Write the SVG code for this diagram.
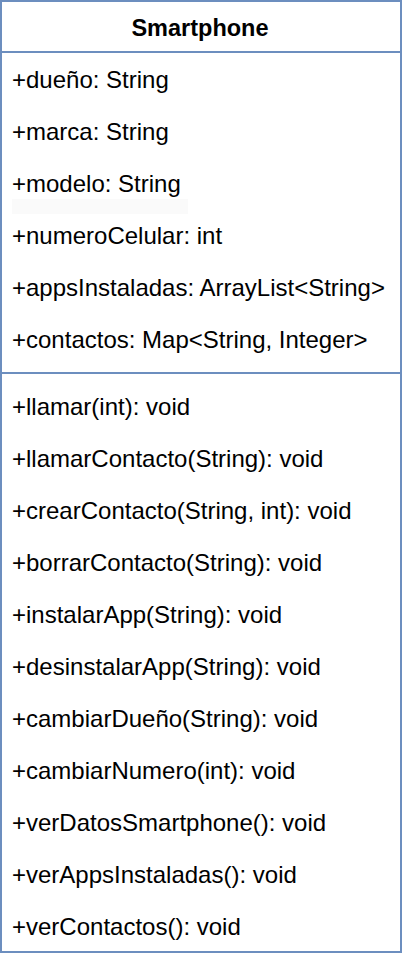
<svg xmlns="http://www.w3.org/2000/svg" width="404" height="960" viewBox="0 0 404 960">
<style>
.t{font-family:"Liberation Sans",Arial,sans-serif;font-size:24px;fill:#000}
.h{font-family:"Liberation Sans",Arial,sans-serif;font-size:23.5px;font-weight:bold;fill:#000}
.ln{stroke:#6c8ebf;stroke-width:2;fill:none}
</style>
<rect width="404" height="960" fill="#fff"/>
<g id="Smartphone">
<rect x="1" y="1" width="400" height="51" fill="#dae8fc" class="ln"/>
<rect x="1" y="52" width="400" height="900" fill="#fff" class="ln"/>
<line x1="1" y1="373" x2="401" y2="373" class="ln"/>
<rect x="12" y="199" width="176" height="15" fill="#fafafa"/>
<text class="h" x="200" y="36" text-anchor="middle">Smartphone</text>
<text class="t" x="12" y="88">+dueño: String</text>
<text class="t" x="12" y="140">+marca: String</text>
<text class="t" x="12" y="192">+modelo: String</text>
<text class="t" x="12" y="244">+numeroCelular: int</text>
<text class="t" x="12" y="296">+appsInstaladas: ArrayList&lt;String&gt;</text>
<text class="t" x="12" y="348">+contactos: Map&lt;String, Integer&gt;</text>
<text class="t" x="12" y="415">+llamar(int): void</text>
<text class="t" x="12" y="467">+llamarContacto(String): void</text>
<text class="t" x="12" y="519">+crearContacto(String, int): void</text>
<text class="t" x="12" y="571">+borrarContacto(String): void</text>
<text class="t" x="12" y="623">+instalarApp(String): void</text>
<text class="t" x="12" y="675">+desinstalarApp(String): void</text>
<text class="t" x="12" y="727">+cambiarDueño(String): void</text>
<text class="t" x="12" y="779">+cambiarNumero(int): void</text>
<text class="t" x="12" y="831">+verDatosSmartphone(): void</text>
<text class="t" x="12" y="883">+verAppsInstaladas(): void</text>
<text class="t" x="12" y="935">+verContactos(): void</text>
</g>
</svg>
